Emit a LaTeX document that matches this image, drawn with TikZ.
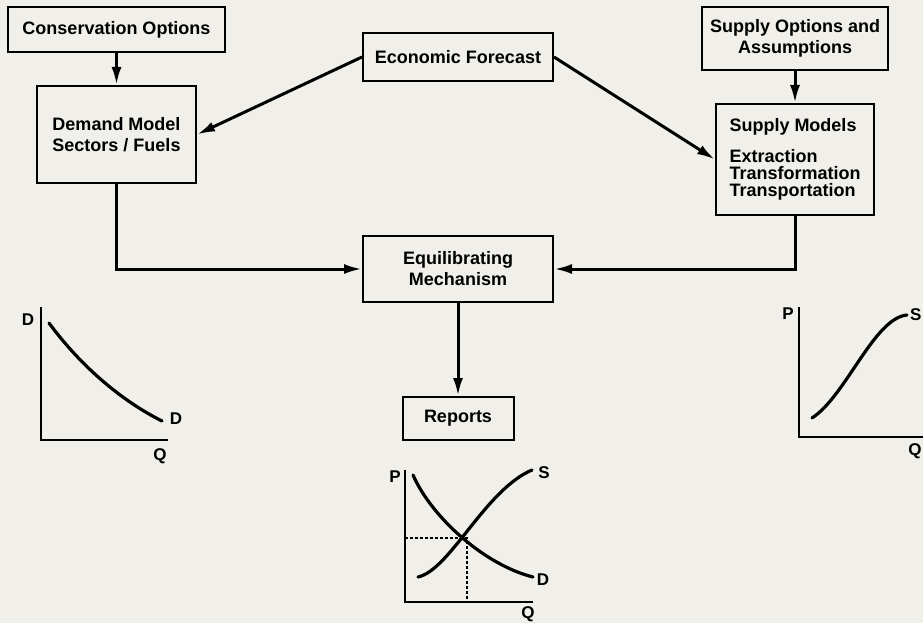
\documentclass[tikz,border=0pt]{standalone}
\usepackage{fontspec}
\setmainfont{Liberation Sans}
\usetikzlibrary{positioning, arrows.meta}
\definecolor{paper}{RGB}{241,239,234}
\tikzset{>={Latex[length=18pt,width=10pt]}, node distance=32pt,
  box/.style={draw, line width=2pt, fill=paper, align=center, inner sep=0pt,
    font=\fontsize{18}{21}\selectfont\bfseries},
  flow/.style={->, line width=3pt},
  axis/.style={line width=2.2pt},
  curve/.style={line width=3.2pt, line cap=round},
  guide/.style={line width=2.8pt, dash pattern=on 2.5pt off 2.5pt},
  lbl/.style={inner sep=0pt, font=\fontsize{17}{17}\selectfont\bfseries}}

\begin{document}
\begin{tikzpicture}[x=1pt, y=-1pt]
\fill[paper] (0,0) rectangle (923,623);
\useasboundingbox (0,0) rectangle (923,623);

% boxes
\node[box, minimum width=217pt, minimum height=45pt] (cons) at (116.5,29.5) {Conservation Options};
\node[box, minimum width=159pt, minimum height=97pt, below=32pt of cons] (demand) {Demand Model\\Sectors / Fuels};
\node[box, minimum width=190pt, minimum height=48pt] (econ) at (458,57) {Economic Forecast};
\node[box, minimum width=186pt, minimum height=63pt] (supopt) at (795,38.5) {Supply Options and\\Assumptions};
\node[box, minimum width=158pt, minimum height=111pt, below=32pt of supopt, align=left,
  font=\fontsize{18}{17}\selectfont\bfseries] (supmod)
  {Supply Models\\[14pt]Extraction\\Transformation\\Transportation};
\node[box, minimum width=190pt, minimum height=66pt] (equil) at (458,269) {Equilibrating\\Mechanism};
\node[box, minimum width=111pt, minimum height=43pt, below=93pt of equil] (reports) {Reports};

\draw[flow] (cons) -- (demand);
\draw[flow] (supopt) -- (supmod);
\draw[flow] (econ.west) -- (demand.east);
\draw[flow] (econ.east) -- (supmod.west);
\draw[flow] (demand) |- (equil);
\draw[flow] (supmod) |- (equil);
\draw[flow] (equil) -- (reports);

% demand curve
\draw[axis] (41,307) -- (41,440) -- (168,440);
\draw[curve] (49,323) .. controls (80,365) and (120,400) .. (162,421);
\node[lbl] (dtop) at (28,320) {D};
\node[lbl] (dend) at (176,419) {D};
\node[lbl] (qleft) at (160,456) {Q};

% supply curve
\draw[axis] (799,307) -- (799,437) -- (930,437);
\draw[curve] (812,418) .. controls (846,396) and (874,318) .. (907,315);
\node[lbl, anchor=west] (sright) at (910,315) {S};
\node[lbl] (pright) at (788,314) {P};
\node[lbl] (qright) at (915,451) {Q};

% equilibrium
\draw[axis] (405,470) -- (405,602) -- (533,602);
\draw[curve] (413,475) .. controls (432,518) and (485,565) .. (533,577);
\draw[curve] (418,577) .. controls (450,570) and (485,490) .. (532,470);
\coordinate (eq) at (467,538);
\draw[guide] (405,538) -- (eq) -- (467,602);
\node[lbl] (pmid) at (395,477) {P};
\node[lbl] (smid) at (544,473) {S};
\node[lbl] (dmid) at (543,580) {D};
\node[lbl] (qmid) at (528,614) {Q};
\end{tikzpicture}
\end{document}
